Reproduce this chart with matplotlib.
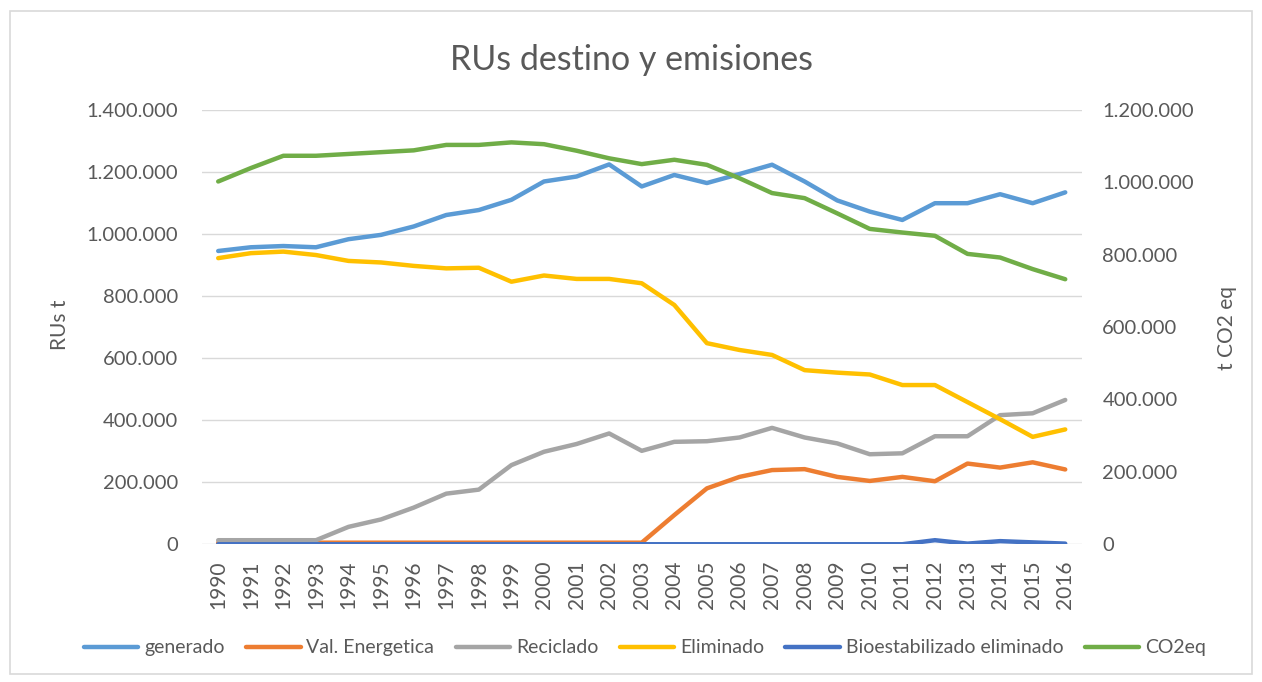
import numpy as np
import matplotlib
matplotlib.use("Agg")
import matplotlib.pyplot as plt
from matplotlib.ticker import FuncFormatter, MultipleLocator
from matplotlib.patches import Rectangle

# datos
years = list(range(1990, 2017))
generado = [945000, 957000, 961000, 957000, 983000, 997000, 1024000, 1061000, 1077000, 1110000,
            1169000, 1185000, 1224000, 1153000, 1190000, 1164000, 1193000, 1223000, 1169000, 1108000,
            1072000, 1045000, 1099000, 1099000, 1128000, 1099000, 1134000]
val_energetica = [5000, 5000, 5000, 5000, 5000, 5000, 5000, 5000, 5000, 5000,
                  5000, 5000, 5000, 5000, 94000, 180000, 217000, 239000, 242000, 217000,
                  204000, 217000, 203000, 260000, 247000, 264000, 241000]
reciclado = [13000, 13000, 13000, 13000, 56000, 80000, 118000, 163000, 176000, 255000,
             298000, 323000, 357000, 301000, 330000, 332000, 344000, 375000, 344000, 325000,
             290000, 293000, 348000, 348000, 416000, 422000, 465000]
eliminado = [922000, 938000, 943000, 932000, 913000, 908000, 897000, 889000, 891000, 846000,
             866000, 855000, 855000, 841000, 771000, 648000, 626000, 610000, 561000, 553000,
             547000, 513000, 513000, 458000, 403000, 346000, 370000]
bioestabilizado = [0, 0, 0, 0, 0, 0, 0, 0, 0, 0,
                   0, 0, 0, 0, 0, 0, 0, 0, 0, 0,
                   0, 0, 13000, 2000, 10000, 6000, 2000]
co2eq = [1002000, 1039000, 1073000, 1073000, 1078000, 1083000, 1088000, 1103000, 1103000, 1110000,
         1105000, 1087000, 1066000, 1050000, 1062000, 1048000, 1011000, 970000, 956000, 914000,
         871000, 861000, 852000, 802000, 792000, 760000, 732000]

matplotlib.rc("font", family=["Lato", "DejaVu Sans"])
gris = "#595959"

fig = plt.figure(figsize=(12.62, 6.82), dpi=100)
ax = fig.add_axes([0.160, 0.202, 0.697, 0.637])
ax2 = ax.twinx()

x = np.arange(len(years))
lw = 3.2
l1, = ax.plot(x, generado, color="#5B9BD5", lw=lw, label="generado", solid_capstyle="round")
l2, = ax.plot(x, val_energetica, color="#ED7D31", lw=lw, label="Val. Energetica", solid_capstyle="round")
l3, = ax.plot(x, reciclado, color="#A5A5A5", lw=lw, label="Reciclado", solid_capstyle="round")
l4, = ax.plot(x, eliminado, color="#FFC000", lw=lw, label="Eliminado", solid_capstyle="round")
l5, = ax.plot(x, bioestabilizado, color="#4472C4", lw=lw, label="Bioestabilizado eliminado", solid_capstyle="round")
l6, = ax2.plot(x, co2eq, color="#70AD47", lw=lw, label="CO2eq", solid_capstyle="round")

fmt = FuncFormatter(lambda v, p: f"{v:,.0f}".replace(",", "."))

ax.set_xlim(-0.5, len(years) - 0.5)
ax.set_ylim(0, 1400000)
ax.yaxis.set_major_locator(MultipleLocator(200000))
ax.yaxis.set_major_formatter(fmt)
ax.set_xticks(x)
ax.set_xticklabels([str(y) for y in years], rotation=90)
ax.grid(axis="y", color="#D9D9D9", lw=1)
ax.set_axisbelow(True)
ax.tick_params(axis="y", length=0, labelsize=14.5, colors=gris, pad=17)
ax.tick_params(axis="x", length=0, labelsize=15, colors=gris, pad=12)

ax2.set_ylim(0, 1200000)
ax2.yaxis.set_major_locator(MultipleLocator(200000))
ax2.yaxis.set_major_formatter(fmt)
ax2.tick_params(axis="y", length=0, labelsize=14.5, colors=gris, pad=15)

for a in (ax, ax2):
    for s in a.spines.values():
        s.set_visible(False)

# titulos de ejes
fig.text(60 / 1262, 0.524, "RUs t", rotation=90, fontsize=15, color=gris, ha="center", va="center")
fig.text(1227 / 1262, 0.519, "t CO2 eq", rotation=90, fontsize=15, color=gris, ha="center", va="center")

fig.suptitle("RUs destino y emisiones", fontsize=24.5, color=gris, y=0.935)

fig.legend(handles=[l1, l2, l3, l4, l5, l6], loc="center", bbox_to_anchor=(0.511, 0.05),
           ncol=6, frameon=False, fontsize=14, labelcolor=gris,
           handlelength=2.8, handletextpad=0.3, columnspacing=1.1)

# marco exterior
fig.patches.append(Rectangle((0.008, 0.012), 0.984, 0.972, transform=fig.transFigure,
                             fill=False, edgecolor="#D9D9D9", lw=1.2))

plt.savefig("out.png", dpi=100)
